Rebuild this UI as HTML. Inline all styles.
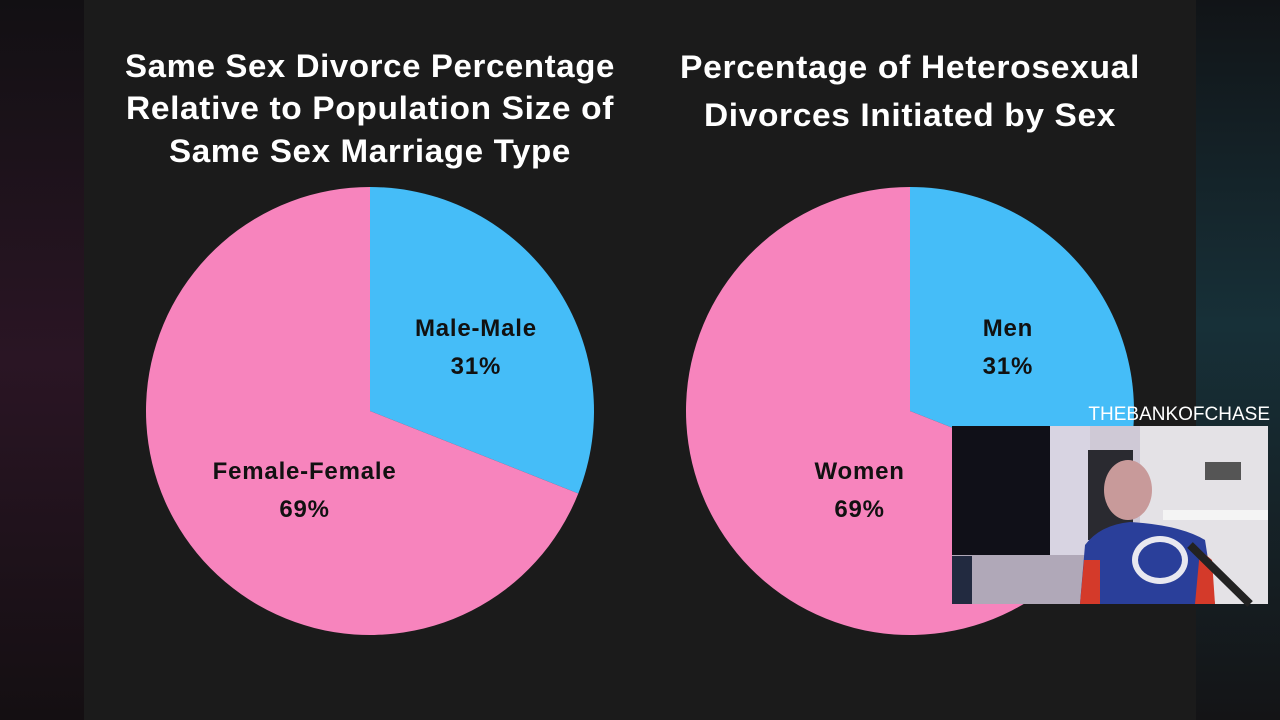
<!DOCTYPE html>
<html><head><meta charset="utf-8"><style>
html,body{margin:0;padding:0;width:1280px;height:720px;overflow:hidden;background:#111;}
svg{display:block;font-family:"Liberation Sans",sans-serif;}
</style></head><body>
<svg id="chart" width="1280" height="720" viewBox="0 0 1280 720">
<defs>
<linearGradient id="lg" x1="0" y1="0" x2="0" y2="1"><stop offset="0" stop-color="#121013"/><stop offset="0.5" stop-color="#2a1524"/><stop offset="1" stop-color="#140f12"/></linearGradient>
<linearGradient id="rg" x1="0" y1="0" x2="0" y2="1"><stop offset="0" stop-color="#111417"/><stop offset="0.45" stop-color="#173038"/><stop offset="1" stop-color="#141416"/></linearGradient>
</defs>
<rect x="0" y="0" width="84" height="720" fill="url(#lg)"/>
<rect x="1196" y="0" width="84" height="720" fill="url(#rg)"/>
<rect x="84" y="0" width="1112" height="720" fill="#1b1b1b"/>
<g font-weight="bold" font-size="32" fill="#fff" text-anchor="middle" letter-spacing="0.6">
<text x="370" y="77" textLength="490" lengthAdjust="spacingAndGlyphs">Same Sex Divorce Percentage</text>
<text x="370" y="119" textLength="488" lengthAdjust="spacingAndGlyphs">Relative to Population Size of</text>
<text x="370" y="162" textLength="402" lengthAdjust="spacingAndGlyphs">Same Sex Marriage Type</text>
<text x="910" y="78" textLength="460" lengthAdjust="spacingAndGlyphs">Percentage of Heterosexual</text>
<text x="910" y="126" textLength="412" lengthAdjust="spacingAndGlyphs">Divorces Initiated by Sex</text>
</g>
<g id="pies"></g>
<g>
<text x="1270" y="420" text-anchor="end" font-size="19" fill="#fff">THEBANKOFCHASE</text>
<rect x="952" y="426" width="316" height="178" fill="#cfc9d6"/>
<rect x="952" y="426" width="98" height="130" fill="#101018"/>
<rect x="1050" y="426" width="40" height="150" fill="#d8d4e2"/>
<rect x="1088" y="450" width="45" height="90" fill="#2a2a30"/>
<rect x="1140" y="426" width="128" height="178" fill="#e4e2e6"/>
<rect x="1205" y="462" width="36" height="18" fill="#555"/>
<rect x="1163" y="510" width="105" height="10" fill="#f4f4f4"/>
<rect x="952" y="555" width="140" height="49" fill="#b0a8b8"/>
<rect x="952" y="556" width="20" height="48" fill="#222a40"/>
<ellipse cx="1128" cy="490" rx="24" ry="30" fill="#c89a9a"/>
<path d="M1080 604 L1085 545 Q1100 525 1130 522 Q1180 525 1205 540 L1215 604 Z" fill="#2a3f9a"/>
<path d="M1080 604 L1084 560 L1100 560 L1100 604 Z" fill="#d43a2a"/>
<path d="M1195 604 L1200 550 L1212 560 L1215 604 Z" fill="#d43a2a"/>
<ellipse cx="1160" cy="560" rx="28" ry="24" fill="#e8e8f0"/>
<ellipse cx="1160" cy="560" rx="22" ry="18" fill="#2a3f9a"/>
<path d="M1190 545 L1250 604" stroke="#222" stroke-width="8"/>
</g>
</svg>
<script>
const leftLabels = ["Male-Male", "Female-Female"];
const leftValues = [31, 69];
const rightLabels = ["Men", "Women"];
const rightValues = [31, 69];
const sliceColors = ["#45bdf8", "#f784bd"];
const NS = "http://www.w3.org/2000/svg";
const g = document.getElementById("pies");
function drawPie(cx, cy, r, labels, values, prefix, labelPos, shifts) {
  const total = values.reduce((a, b) => a + b, 0);
  let start = 0;
  values.forEach((v, i) => {
    const a0 = start / total * 2 * Math.PI, a1 = (start + v) / total * 2 * Math.PI;
    start += v;
    const x0 = cx + r * Math.sin(a0), y0 = cy - r * Math.cos(a0);
    const x1 = cx + r * Math.sin(a1), y1 = cy - r * Math.cos(a1);
    const large = (a1 - a0) > Math.PI ? 1 : 0;
    const p = document.createElementNS(NS, "path");
    p.setAttribute("d", `M${cx} ${cy} L${x0} ${y0} A${r} ${r} 0 ${large} 1 ${x1} ${y1} Z`);
    p.setAttribute("fill", sliceColors[i]);
    
    
    g.appendChild(p);
    const mid = (a0 + a1) / 2, lr = r * labelPos[i];
    const lx = cx + lr * Math.sin(mid) + shifts[i][0], ly = cy - lr * Math.cos(mid) + shifts[i][1];
    [labels[i], v + "%"].forEach((s, k) => {
      const t = document.createElementNS(NS, "text");
      t.setAttribute("x", lx); t.setAttribute("y", ly + (k === 0 ? -10 : 28));
      t.setAttribute("text-anchor", "middle"); t.setAttribute("font-size", "24");
      t.setAttribute("letter-spacing", "0.8");
      t.setAttribute("font-weight", "bold"); t.setAttribute("fill", "#111");
      t.textContent = s;
      
      
      g.appendChild(t);
    });
  });
}
drawPie(370, 411, 224, leftLabels, leftValues, "left-pie", [0.55, 0.38], [[4, 4], [5, 30]]);
drawPie(910, 411, 224, rightLabels, rightValues, "right-pie", [0.55, 0.38], [[-4, 4], [20, 30]]);
</script>
</body></html>
